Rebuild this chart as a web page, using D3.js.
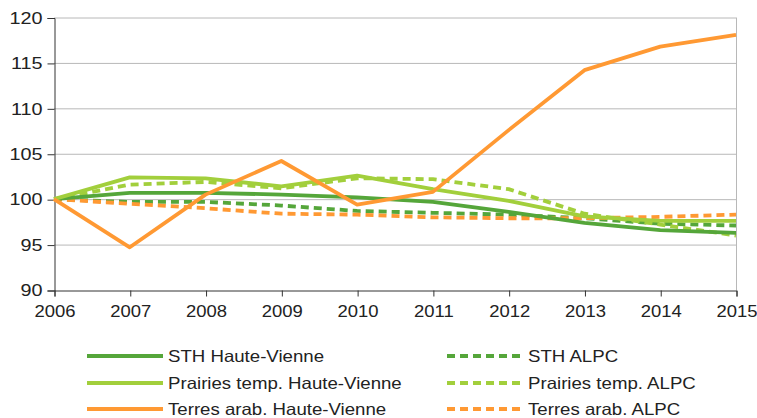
<!DOCTYPE html>
<html>
<head>
<meta charset="utf-8">
<script src="https://cdn.jsdelivr.net/npm/d3@7"></script>
<style>
  body { margin: 0; background: #fff; }
  svg text { font-family: "Liberation Sans", Arial, sans-serif; fill: #222; }
</style>
</head>
<body>
<div id="chart"></div>
<script>
// données (indice base 100 en 2006)
const years = [2006, 2007, 2008, 2009, 2010, 2011, 2012, 2013, 2014, 2015];
const sthHV = [100, 100.7, 100.7, 100.5, 100.2, 99.7, 98.6, 97.4, 96.6, 96.3];
const sthALPC = [100, 99.7, 99.7, 99.3, 98.7, 98.5, 98.3, 97.9, 97.3, 97.1];
const prairiesHV = [100, 102.4, 102.3, 101.4, 102.6, 101.1, 99.8, 98.1, 97.6, 97.6];
const prairiesALPC = [100, 101.6, 101.9, 101.2, 102.3, 102.2, 101.1, 98.4, 97.2, 96.0];
const terresHV = [100, 94.7, 100.5, 104.2, 99.4, 100.8, 107.6, 114.2, 116.8, 118.1];
const terresALPC = [100, 99.5, 99.0, 98.4, 98.3, 98.0, 97.9, 97.9, 98.05, 98.3];
const yTicks = [90, 95, 100, 105, 110, 115, 120];

const series = [
    {name: "STH Haute-Vienne", values: sthHV, color: "#55a63a", dash: null},
    {name: "STH ALPC", values: sthALPC, color: "#55a63a", dash: "8,5"},
    {name: "Prairies temp. Haute-Vienne", values: prairiesHV, color: "#a2cf3c", dash: null},
    {name: "Prairies temp. ALPC", values: prairiesALPC, color: "#a2cf3c", dash: "8,5"},
    {name: "Terres arab. Haute-Vienne", values: terresHV, color: "#ff9933", dash: null},
    {name: "Terres arab. ALPC", values: terresALPC, color: "#ff9933", dash: "8,5"}
];

const width = 757, height = 418;
const margin = {top: 17.5, right: 21, bottom: 128, left: 54};
const fontSize = "16.5px";

const svg = d3.select("#chart").append("svg")
    .attr("width", width)
    .attr("height", height);

const x = d3.scaleLinear()
    .domain([2006, 2015])
    .range([margin.left, width - margin.right]);

const y = d3.scaleLinear()
    .domain([90, 120])
    .range([height - margin.bottom, margin.top]);

// grille horizontale
svg.append("g")
    .selectAll("line")
    .data(yTicks.slice(1))
    .enter().append("line")
        .attr("x1", margin.left)
        .attr("x2", width - margin.right)
        .attr("y1", d => y(d) + 0.5)
        .attr("y2", d => y(d) + 0.5)
        .attr("stroke", "#b8b8b8")
        .attr("stroke-width", 1);

// bord droit
svg.append("line")
    .attr("x1", width - margin.right + 0.5)
    .attr("x2", width - margin.right + 0.5)
    .attr("y1", y(120))
    .attr("y2", y(90))
    .attr("stroke", "#b8b8b8");

const yAxis = svg.append("g")
    .attr("transform", `translate(${margin.left + 0.5},0.5)`)
    .call(d3.axisLeft(y).tickValues(yTicks).tickSize(7).tickPadding(3));

const xAxis = svg.append("g")
    .attr("transform", `translate(0.5,${y(90) + 0.5})`)
    .call(d3.axisBottom(x).tickValues(years).tickFormat(d3.format("d")).tickSize(6).tickPadding(9));

[yAxis, xAxis].forEach(function(g) {
    g.select(".domain").attr("stroke", "#333");
    g.selectAll(".tick line").attr("stroke", "#333");
    g.selectAll("text")
        .style("font-size", fontSize)
        .attr("fill", "#222");
});
// le texte de l'original est étiré en largeur
yAxis.selectAll("text").attr("transform", "scale(1.2,1)");
xAxis.selectAll("text").attr("transform", "scale(1.12,1)");

const line = d3.line()
    .x((d, i) => x(years[i]))
    .y(d => y(d));

// ordre de dessin : pointillés d'abord, puis traits pleins
const drawOrder = [1, 5, 3, 0, 2, 4];
svg.append("g")
    .selectAll("path")
    .data(drawOrder.map(i => series[i]))
    .enter().append("path")
        .attr("d", d => line(d.values))
        .attr("fill", "none")
        .attr("stroke", d => d.color)
        .attr("stroke-width", 3.8)
        .attr("stroke-dasharray", d => d.dash)
        .attr("stroke-linejoin", "round");

// légende
const legend = svg.append("g");
const legendRows = [356, 383, 409];
series.forEach(function(s, i) {
    const col = i % 2, row = Math.floor(i / 2);
    const lx = col === 0 ? 87 : 447;
    const ly = legendRows[row];
    legend.append("line")
        .attr("x1", lx)
        .attr("x2", lx + 76)
        .attr("y1", ly)
        .attr("y2", ly)
        .attr("stroke", s.color)
        .attr("stroke-width", 3.8)
        .attr("stroke-dasharray", s.dash);
    legend.append("text")
        .attr("transform", `translate(${lx + 81},${ly}) scale(1.13,1)`)
        .attr("dy", "0.35em")
        .style("font-size", fontSize)
        .text(s.name);
});
</script>
</body>
</html>
